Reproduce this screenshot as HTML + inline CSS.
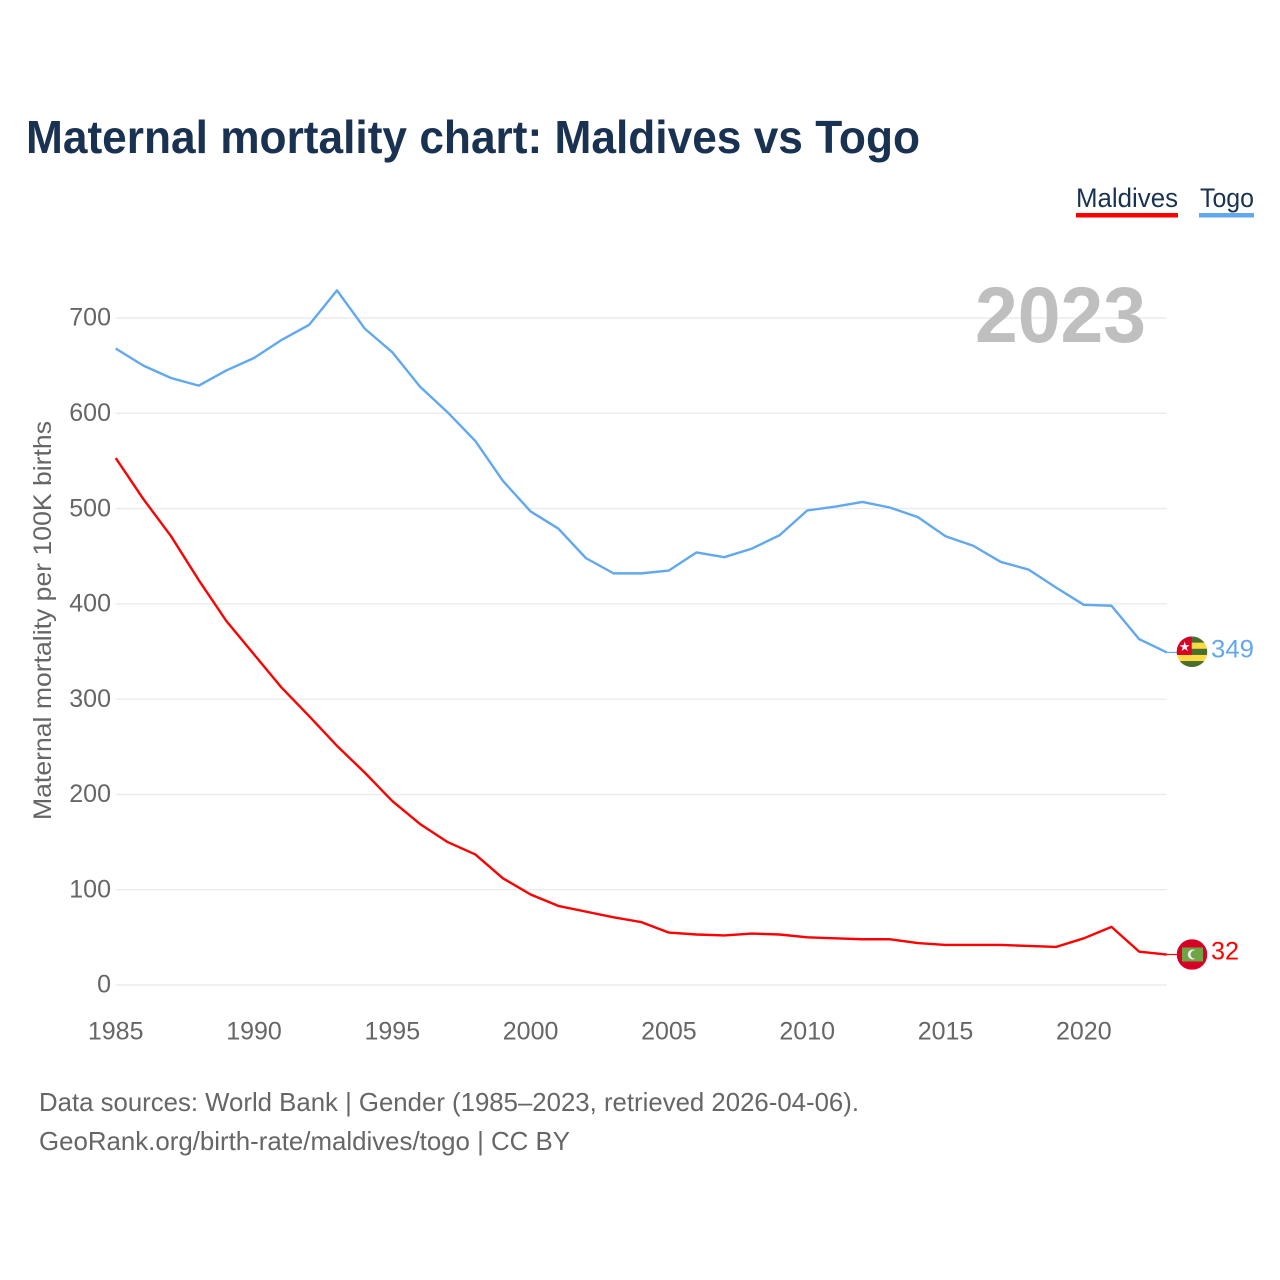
<!DOCTYPE html>
<html lang="en">
<head>
<meta charset="utf-8">
<title>Maternal mortality chart: Maldives vs Togo</title>
<style>
  html, body { margin: 0; padding: 0; background: #fff; }
  svg { display: block; font-family: "Liberation Sans", sans-serif; }
</style>
</head>
<body>
<svg id="chart" xmlns="http://www.w3.org/2000/svg" width="1280" height="1280" viewBox="0 0 1280 1280">
  <rect width="1280" height="1280" fill="#ffffff"/>
  <text x="26" y="153" font-size="46" font-weight="700" fill="#1a3252" textLength="894" lengthAdjust="spacingAndGlyphs">Maternal mortality chart: Maldives vs Togo</text>

  <g>
    <g>
      <text x="1076" y="207" font-size="27" fill="#1a3252" textLength="102" lengthAdjust="spacingAndGlyphs">Maldives</text>
      <rect x="1076" y="213" width="102" height="4.5" fill="#ff0000"/>
    </g>
    <g>
      <text x="1200" y="207" font-size="27" fill="#1a3252" textLength="54" lengthAdjust="spacingAndGlyphs">Togo</text>
      <rect x="1199" y="213" width="55" height="4.5" fill="#62a8ee"/>
    </g>
  </g>

  <g id="grid"></g>
  <g id="y-ticks"></g>
  <g id="x-ticks"></g>

  <text transform="translate(51,820) rotate(-90)" x="0" y="0" font-size="25" fill="#666666" textLength="399" lengthAdjust="spacingAndGlyphs">Maternal mortality per 100K births</text>

  <text x="975" y="342" font-size="79" font-weight="700" fill="#bfbfbf" textLength="171" lengthAdjust="spacingAndGlyphs">2023</text>

  <g id="series"></g>

  <defs>
    <clipPath id="flag-clip"><circle cx="0" cy="0" r="15.3"/></clipPath>
  </defs>

  <g id="flag-togo" clip-path="url(#flag-clip)">
    <rect x="-15.3" y="-15.3" width="30.6" height="30.6" fill="#ffda44"/>
    <rect x="-15.3" y="-15.3" width="30.6" height="6.2" fill="#496e2d"/>
    <rect x="-15.3" y="-3" width="30.6" height="6.2" fill="#496e2d"/>
    <rect x="-15.3" y="9.3" width="30.6" height="6.2" fill="#496e2d"/>
    <rect x="-15.3" y="-15.3" width="15" height="18.5" fill="#d80027"/>
    <text x="-7.3" y="-0.8" font-size="13" fill="#f0f0f0" text-anchor="middle" font-family="'DejaVu Sans', sans-serif">★</text>
  </g>
  <g id="flag-maldives" clip-path="url(#flag-clip)">
    <rect x="-15.3" y="-15.3" width="30.6" height="30.6" fill="#d80027"/>
    <rect x="-10" y="-7" width="21" height="14" fill="#6da544"/>
    <circle cx="0.8" cy="0" r="5" fill="#f0f0f0"/>
    <circle cx="2.8" cy="0" r="4.2" fill="#6da544"/>
  </g>

  <text id="value-togo" x="1211" font-size="25" fill="#62a8ee" textLength="43" lengthAdjust="spacingAndGlyphs"></text>
  <text id="value-maldives" x="1211" font-size="25" fill="#ff0000" textLength="28" lengthAdjust="spacingAndGlyphs"></text>

  <g>
    <text x="39" y="1111" font-size="26" fill="#666666" textLength="820" lengthAdjust="spacingAndGlyphs">Data sources: World Bank | Gender (1985–2023, retrieved 2026-04-06).</text>
    <text x="39" y="1150" font-size="26" fill="#666666" textLength="531" lengthAdjust="spacingAndGlyphs">GeoRank.org/birth-rate/maldives/togo | CC BY</text>
  </g>
</svg>

<script>
const years = [1985,1986,1987,1988,1989,1990,1991,1992,1993,1994,1995,1996,1997,1998,1999,2000,2001,2002,2003,2004,2005,2006,2007,2008,2009,2010,2011,2012,2013,2014,2015,2016,2017,2018,2019,2020,2021,2022,2023];
const togoValues = [668,650,637,629,645,658,677,693,729,689,664,628,601,571,529,497,479,448,432,432,435,454,449,458,472,498,502,507,501,491,471,461,444,436,417,399,398,363,349];
const maldivesValues = [553,510,471,425,382,347,312,282,251,223,193,169,150,137,112,95,83,77,71,66,55,53,52,54,53,50,49,48,48,44,42,42,42,41,40,49,61,35,32];
const yTickValues = [0,100,200,300,400,500,600,700];
const xTickValues = [1985,1990,1995,2000,2005,2010,2015,2020];

const SVG_NS = 'http://www.w3.org/2000/svg';
const plot = { left: 115.7, right: 1166.8, top: 318, bottom: 985 };
function xScale(year) {
  return plot.left + (year - 1985) * (plot.right - plot.left) / (2023 - 1985);
}
function yScale(value) {
  return plot.bottom - value * (plot.bottom - plot.top) / 700;
}
function make(tag, attrs, parent) {
  const el = document.createElementNS(SVG_NS, tag);
  Object.keys(attrs).forEach(function (k) { el.setAttribute(k, attrs[k]); });
  parent.appendChild(el);
  return el;
}

const gridGroup = document.getElementById('grid');
const yTickGroup = document.getElementById('y-ticks');
const xTickGroup = document.getElementById('x-ticks');
const seriesGroup = document.getElementById('series');

yTickValues.forEach(function (v) {
  const line = make('line', { x1: plot.left, x2: plot.right, y1: yScale(v), y2: yScale(v), stroke: '#ebebeb', 'stroke-width': 1.4 }, gridGroup);
  
  
  const label = make('text', { x: 111, y: yScale(v) + 7.7, 'text-anchor': 'end', 'font-size': 25, fill: '#666666' }, yTickGroup);
  
  
  label.textContent = String(v);
});

xTickValues.forEach(function (y) {
  const label = make('text', { x: xScale(y), y: 1039.3, 'text-anchor': 'middle', 'font-size': 25, fill: '#666666' }, xTickGroup);
  
  
  label.textContent = String(y);
});

function linePath(values) {
  return values.map(function (v, i) {
    return (i ? 'L' : 'M') + xScale(years[i]).toFixed(2) + ' ' + yScale(v).toFixed(2);
  }).join(' ');
}

const togoLine = make('path', { d: linePath(togoValues), fill: 'none', stroke: '#62a8ee', 'stroke-width': 2.4, 'stroke-linejoin': 'round' }, seriesGroup);



const maldivesLine = make('path', { d: linePath(maldivesValues), fill: 'none', stroke: '#ff0000', 'stroke-width': 2.4, 'stroke-linejoin': 'round' }, seriesGroup);



const togoLast = togoValues[togoValues.length - 1];
const maldivesLast = maldivesValues[maldivesValues.length - 1];

const togoConnector = make('line', { x1: plot.right, x2: 1178, y1: yScale(togoLast), y2: yScale(togoLast), stroke: '#62a8ee', 'stroke-width': 1.2 }, seriesGroup);



const maldivesConnector = make('line', { x1: plot.right, x2: 1178, y1: yScale(maldivesLast), y2: yScale(maldivesLast), stroke: '#ff0000', 'stroke-width': 1.2 }, seriesGroup);



document.getElementById('flag-togo').setAttribute('transform', 'translate(1192,' + (yScale(togoLast) - 0.7) + ')');
document.getElementById('flag-maldives').setAttribute('transform', 'translate(1192,' + yScale(maldivesLast) + ')');

const togoValueLabel = document.getElementById('value-togo');
togoValueLabel.setAttribute('y', yScale(togoLast) + 5);
togoValueLabel.textContent = String(togoLast);

const maldivesValueLabel = document.getElementById('value-maldives');
maldivesValueLabel.setAttribute('y', yScale(maldivesLast) + 5);
maldivesValueLabel.textContent = String(maldivesLast);
</script>
</body>
</html>
